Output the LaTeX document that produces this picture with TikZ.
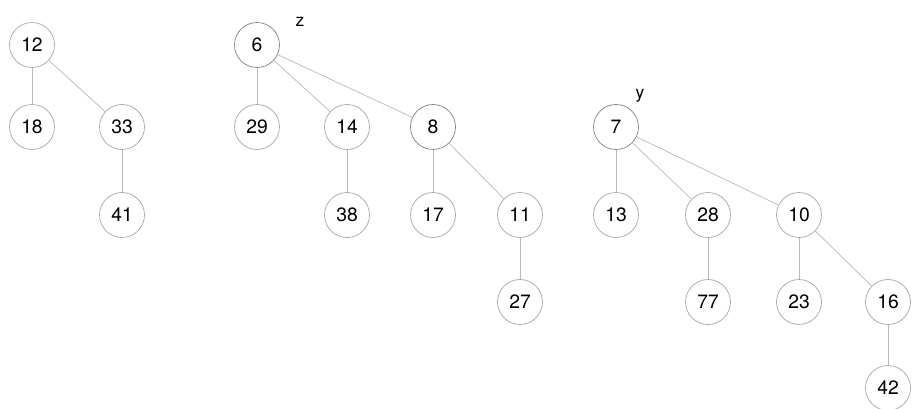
\documentclass[tikz,border=0pt]{standalone}
\usepackage{fontspec}
\setmainfont{TeX Gyre Heros}
\begin{document}
\begin{tikzpicture}[x=0.02cm,y=-0.02cm,
  key/.style={circle,draw=gray!70,minimum size=0.9cm,inner sep=0pt,font=\fontsize{11}{13}\selectfont},
  link/.style={draw=gray!55}]
\useasboundingbox (0,0) rectangle (914,409);
\node[key] (n12) at (32,45) {12};
\node[key] (n18) at (32,127) {18};
\node[key] (n33) at (122,127) {33};
\node[key] (n41) at (122,215) {41};
\node[key,draw=gray] (n6) at (257,45) {6};
\node at (300,22) {z};
\node[key] (n29) at (257,127) {29};
\node[key] (n14) at (347,127) {14};
\node[key,draw=gray] (n8) at (433,127) {8};
\node[key] (n38) at (347,215) {38};
\node[key] (n17) at (433,215) {17};
\node[key] (n11) at (520,215) {11};
\node[key] (n27) at (520,302) {27};
\node[key,draw=gray] (n7) at (616,127) {7};
\node at (640,96) {y};
\node[key] (n13) at (616,215) {13};
\node[key] (n28) at (708,215) {28};
\node[key] (n10) at (799,215) {10};
\node[key] (n77) at (708,302) {77};
\node[key] (n23) at (799,302) {23};
\node[key] (n16) at (888,302) {16};
\node[key] (n42) at (888,388) {42};
\draw[link] (n12) -- (n18);
\draw[link] (n12) -- (n33);
\draw[link] (n33) -- (n41);
\draw[link] (n6) -- (n29);
\draw[link] (n6) -- (n14);
\draw[link] (n6) -- (n8);
\draw[link] (n14) -- (n38);
\draw[link] (n8) -- (n17);
\draw[link] (n8) -- (n11);
\draw[link] (n11) -- (n27);
\draw[link] (n7) -- (n13);
\draw[link] (n7) -- (n28);
\draw[link] (n7) -- (n10);
\draw[link] (n28) -- (n77);
\draw[link] (n10) -- (n23);
\draw[link] (n10) -- (n16);
\draw[link] (n16) -- (n42);
\end{tikzpicture}
\end{document}
